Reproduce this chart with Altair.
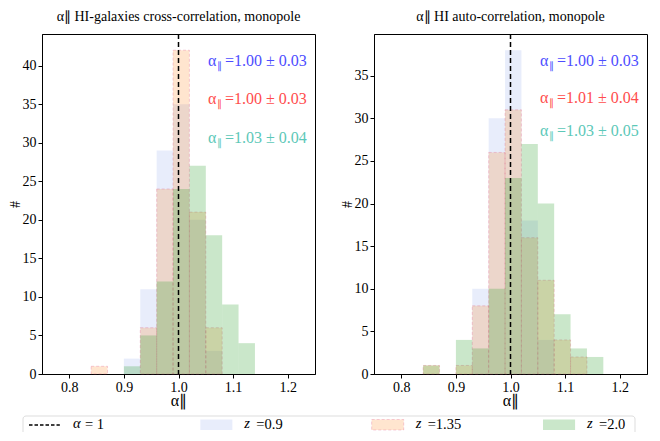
import altair as alt
import pandas as pd

# ---------------- data ----------------
bin_lo = [0.84, 0.87, 0.90, 0.93, 0.96, 0.99, 1.02, 1.05, 1.08, 1.11, 1.14]
bin_width = 0.03
series = ["z =0.9", "z =1.35", "z =2.0"]

# HI-galaxies cross-correlation counts
cross_z09 = [0, 0, 2, 11, 29, 35, 20, 3, 0, 0, 0]
cross_z135 = [1, 0, 0, 6, 24, 42, 21, 6, 0, 0, 0]
cross_z20 = [0, 0, 1, 5, 12, 24, 27, 18, 9, 4, 0]

# HI auto-correlation counts
auto_z09 = [0, 0, 0, 10, 30, 38, 18, 4, 0, 0, 0]
auto_z135 = [1, 0, 1, 8, 26, 31, 16, 11, 4, 2, 0]
auto_z20 = [1, 0, 4, 3, 10, 23, 27, 20, 7, 3, 2]

cross_results = ["=1.00 ± 0.03", "=1.00 ± 0.03", "=1.03 ± 0.04"]
auto_results = ["=1.00 ± 0.03", "=1.01 ± 0.04", "=1.03 ± 0.05"]

titles = ["α∥ HI-galaxies cross-correlation, monopole", "α∥ HI auto-correlation, monopole"]
legend_symbols = ["α", "z", "z", "z"]
legend_rest = ["= 1", "=0.9", "=1.35", "=2.0"]

FONT = "Liberation Serif"
fills = ["#4169e1", "#ff7f0e", "#2ca02c"]
fill_op = [0.12, 0.2, 0.25]
text_colors = ["#4d4dff", "#ff4d4d", "#5cc8b8"]


def hist_df(counts):
    rows = []
    for lo, c in zip(bin_lo, counts):
        if c > 0:
            rows.append({"lo": lo, "hi": round(lo + bin_width, 2), "count": c})
    return pd.DataFrame(rows)


def panel(counts_list, results, title, ymax, yticks, ann_y):
    xsc = alt.Scale(domain=[0.75, 1.25], nice=False, zero=False)
    ysc = alt.Scale(domain=[0, ymax], nice=False)
    layers = []
    for i, counts in enumerate(counts_list):
        mk = dict(fill=fills[i], fillOpacity=fill_op[i])
        if i == 1:
            mk.update(stroke="#e0457b", strokeOpacity=0.25, strokeDash=[3, 2], strokeWidth=1)
        else:
            mk.update(strokeWidth=0)
        layers.append(
            alt.Chart(hist_df(counts)).mark_rect(**mk).encode(
                x=alt.X("lo:Q", scale=xsc,
                        axis=alt.Axis(values=[0.8, 0.9, 1.0, 1.1, 1.2], format=".1f", title="α∥",
                                      titleY=31, titleBaseline="alphabetic")),
                x2="hi:Q",
                y=alt.Y("count:Q", scale=ysc,
                        axis=alt.Axis(values=yticks, format="d", title="#",
                                      titleFontSize=14, titlePadding=0)),
                y2=alt.datum(0),
            )
        )
    rule = alt.Chart(pd.DataFrame({"a": [1.0]})).mark_rule(
        color="black", strokeDash=[5, 3], strokeWidth=1.5
    ).encode(x=alt.X("a:Q", scale=xsc))
    layers.append(rule)
    base = alt.Chart(pd.DataFrame({"k": [0]}))
    for i, res in enumerate(results):
        col = text_colors[i]
        xv = alt.datum(1.054)
        yv = alt.datum(ann_y[i])
        layers.append(base.mark_text(text="α", align="left", baseline="alphabetic", font=FONT,
                                     fontSize=16, color=col).encode(x=xv, y=yv))
        layers.append(base.mark_text(text="∥", align="left", baseline="alphabetic", font=FONT,
                                     fontSize=10, color=col, dx=9, dy=3).encode(x=xv, y=yv))
        layers.append(base.mark_text(text=res, align="left", baseline="alphabetic", font=FONT,
                                     fontSize=16, color=col, dx=17).encode(x=xv, y=yv))
    return alt.layer(*layers).properties(
        width=273, height=340,
        title=alt.TitleParams(title, fontSize=14, font=FONT, fontWeight="normal", offset=9.5),
    )


left = panel([cross_z09, cross_z135, cross_z20], cross_results, titles[0], 44.1,
             list(range(0, 45, 5)), [40, 35, 30])
right = panel([auto_z09, auto_z135, auto_z20], auto_results, titles[1], 39.9,
              list(range(0, 40, 5)), [36.1, 31.8, 27.9])

# ---------------- custom legend ----------------
leg = pd.DataFrame({"i": [0, 1, 2, 3], "sym": legend_symbols, "rest": legend_rest})
lx = alt.Scale(domain=[0, 3], range=[-13, 501])
box = alt.Chart(pd.DataFrame({"k": [0]})).mark_rect(
    fill="white", stroke="#dddddd", strokeWidth=1, cornerRadius=3
).encode(x=alt.value(-19), x2=alt.value(593), y=alt.value(0), y2=alt.value(40))
line_item = alt.Chart(leg).transform_filter("datum.i == 0").transform_calculate(
    i2="datum.i + 0.18"
).mark_rule(color="black", strokeDash=[3.5, 2], strokeWidth=1.5).encode(
    x=alt.X("i:Q", scale=lx, axis=None), x2="i2:Q", y=alt.value(9)
)
patches = []
for k in range(3):
    sty = dict(fill=fills[k], fillOpacity=fill_op[k])
    if k == 1:
        sty.update(stroke="#e0457b", strokeOpacity=0.25, strokeDash=[3, 2], strokeWidth=1)
    else:
        sty.update(strokeWidth=0)
    patches.append(
        alt.Chart(leg).transform_filter(f"datum.i == {k + 1}").transform_calculate(
            i2="datum.i + 0.187"
        ).mark_rect(**sty).encode(
            x=alt.X("i:Q", scale=lx, axis=None), x2="i2:Q", y=alt.value(3.5), y2=alt.value(14)
        )
    )
sym_text = alt.Chart(leg).mark_text(align="left", baseline="middle", font=FONT, fontSize=14.5,
                                    fontStyle="italic", dx=44, color="black").encode(
    x=alt.X("i:Q", scale=lx, axis=None), y=alt.value(8), text="sym:N"
)
rest_text = alt.Chart(leg).mark_text(align="left", baseline="middle", font=FONT, fontSize=14.5,
                                     dx=56, color="black").encode(
    x=alt.X("i:Q", scale=lx, axis=None), y=alt.value(8.5), text="rest:N"
)
legend = alt.layer(box, line_item, *patches, sym_text, rest_text).properties(
    width=600, height=4, view=alt.ViewBackground(strokeWidth=0, strokeOpacity=0)
)

chart = alt.vconcat(
    alt.hconcat(left, right, spacing=23),
    legend,
    spacing=6,
).properties(
    autosize=alt.AutoSizeParams(type="none"),
    padding={"left": 34, "top": 26, "right": 610, "bottom": 398},
).configure(font=FONT).configure_axis(
    grid=False, domainColor="black", domainWidth=1, tickColor="black", tickSize=4,
    labelColor="black", titleColor="black", labelFont=FONT, titleFont=FONT,
    labelFontSize=14, titleFontSize=16, titleFontWeight="normal", labelPadding=2,
    titlePadding=3,
).configure_view(stroke="black", strokeWidth=1).configure_title(color="black")

chart.save("out.html", embed_options={"renderer": "svg", "actions": False})
